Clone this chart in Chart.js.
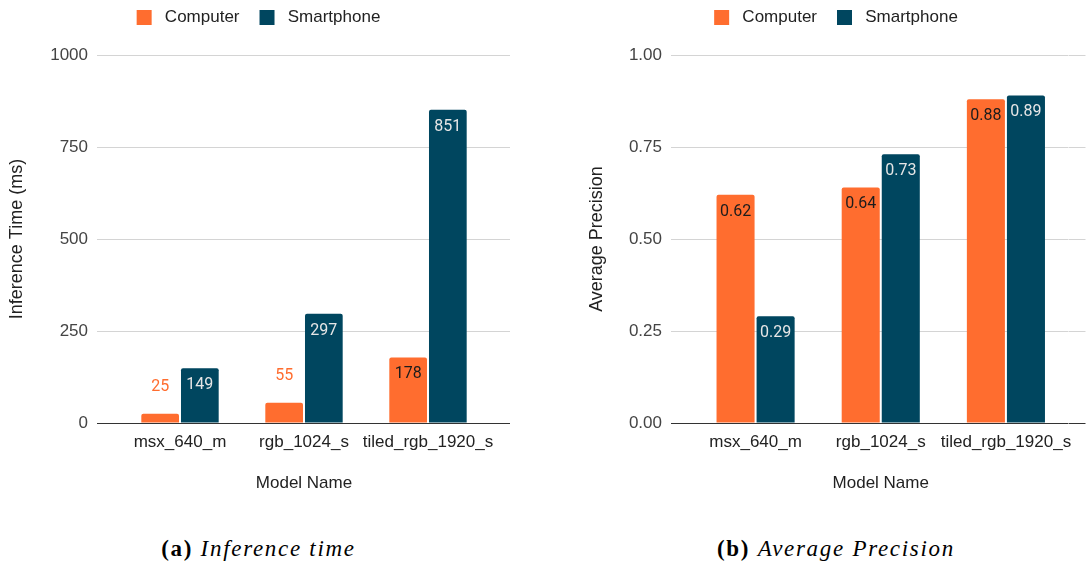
<!DOCTYPE html>
<html><head><meta charset="utf-8">
<script src="https://cdn.jsdelivr.net/npm/chart.js@4.4.1/dist/chart.umd.min.js"></script>
<style>
html,body{margin:0;padding:0;background:#fff}
body{width:1086px;height:567px;position:relative;overflow:hidden}
#w1{position:absolute;left:0;top:0;width:517px;height:500px}
#w2{position:absolute;left:586px;top:0;width:500px;height:500px}
.cap{position:absolute;top:536px;font-family:"Liberation Serif",serif;font-size:23px;color:#000;text-align:center;letter-spacing:1.7px;white-space:nowrap}
#cap1{left:0;width:517px}
#cap2{left:586px;width:500px}
.cap b{font-weight:bold}
.cap i{font-style:italic}
</style></head><body>
<div id="w1"><canvas id="c1"></canvas></div>
<div id="w2"><canvas id="c2"></canvas></div>
<div class="cap" id="cap1"><b>(a)</b> <i>Inference time</i></div>
<div class="cap" id="cap2"><b>(b)</b> <i>Average Precision</i></div>
<script>
const categories = ['msx_640_m', 'rgb_1024_s', 'tiled_rgb_1920_s'];
const seriesNames = ['Computer', 'Smartphone'];
const timeComputer = [25, 55, 178];
const timeSmartphone = [149, 297, 851];
const apComputer = [0.62, 0.64, 0.88];
const apSmartphone = [0.29, 0.73, 0.89];
const timeTicks = [0, 250, 500, 750, 1000];
const apTicks = [0, 0.25, 0.5, 0.75, 1];

const ORANGE = '#ff6d2f';
const NAVY = '#00465f';
const AXFONT = {family: '"Liberation Sans", Arial, sans-serif', size: 17};
const TITLEFONT = {family: '"Liberation Sans", Arial, sans-serif', size: 18};

const barLabels = {
  id: 'barLabels',
  afterDatasetsDraw(chart, args, opts) {
    const ctx = chart.ctx;
    ctx.save();
    ctx.font = '16px Roboto';
    ctx.textAlign = 'center';
    ctx.textBaseline = 'middle';
    chart.data.datasets.forEach((ds, i) => {
      const meta = chart.getDatasetMeta(i);
      meta.data.forEach((bar, j) => {
        const txt = opts.fmt(ds.data[j]);
        const h = bar.base - bar.y;
        if (h > 36) {
          ctx.fillStyle = ds.insideColor;
          ctx.fillText(txt, bar.x, bar.y + 17);
        } else {
          ctx.fillStyle = ds.backgroundColor;
          ctx.fillText(txt, bar.x, bar.y - 27);
        }
      });
    });
    ctx.restore();
  }
};

function gridColor(c) { return (c.tick && c.tick.value === 0) ? '#333333' : '#d4d4d4'; }

function makeChart(id, d1, d2, ticks, fmt, yTitle, leftW, rightW, leftExt, rightExt, titlePadTop) {
  const tmin = ticks[0], tmax = ticks[ticks.length - 1];
  return new Chart(document.getElementById(id), {
    type: 'bar',
    data: {
      labels: categories,
      datasets: [
        {label: seriesNames[0], data: d1, backgroundColor: ORANGE, insideColor: '#1c1c1c',
         borderRadius: {topLeft: 2, topRight: 2}, borderSkipped: 'bottom',
         barPercentage: 0.95, categoryPercentage: 0.64, yAxisID: 'y'},
        {label: seriesNames[1], data: d2, backgroundColor: NAVY, insideColor: '#e6e6e6',
         borderRadius: {topLeft: 2, topRight: 2}, borderSkipped: 'bottom',
         barPercentage: 0.95, categoryPercentage: 0.64, yAxisID: 'y'}
      ]
    },
    options: {
      responsive: true, maintainAspectRatio: false, animation: false,
      layout: {padding: {top: -11, left: 0, right: 0, bottom: 0}},
      plugins: {
        legend: {
          position: 'top',
          labels: {
            boxWidth: 15, boxHeight: 15, padding: 20, color: '#222', font: AXFONT,
            generateLabels: chart => Chart.defaults.plugins.legend.labels.generateLabels(chart)
              .map(it => Object.assign(it, {text: ' ' + it.text}))
          }
        },
        title: {display: true, text: ' ', weight: 500, font: {size: 1}, padding: {top: 17.8, bottom: 0}},
        tooltip: {enabled: false},
        barLabels: {fmt: fmt}
      },
      scales: {
        x: {
          grid: {display: false, drawTicks: false}, border: {display: false},
          ticks: {padding: 9, color: '#222', font: AXFONT, maxRotation: 0, autoSkip: false},
          title: {display: true, text: 'Model Name', color: '#222', font: AXFONT, padding: {top: 4, bottom: 6}},
          afterFit: s => { s.height = 77; }
        },
        y: {
          position: 'left', min: tmin, max: tmax,
          afterBuildTicks: s => { s.ticks = ticks.map(v => ({value: v})); },
          afterFit: s => { s.width = leftW; },
          grid: {color: gridColor, tickColor: gridColor, tickLength: leftExt},
          border: {display: false},
          ticks: {padding: 9, color: '#444', font: AXFONT, callback: v => fmt(v)},
          title: {display: true, text: yTitle, color: '#222', font: TITLEFONT, padding: {top: titlePadTop, bottom: 0}}
        },
        y2: {
          position: 'right', min: tmin, max: tmax,
          afterBuildTicks: s => { s.ticks = ticks.map(v => ({value: v})); },
          afterFit: s => { s.width = rightW; },
          grid: {drawOnChartArea: false, color: gridColor, tickColor: gridColor, tickLength: rightExt},
          border: {display: false},
          ticks: {display: false}
        }
      }
    },
    plugins: [barLabels]
  });
}

makeChart('c1', timeComputer, timeSmartphone, timeTicks, v => String(Math.round(v)),
  'Inference Time (ms)', 118, 27, 21, 20, 6);
makeChart('c2', apComputer, apSmartphone, apTicks, v => Number(v).toFixed(2),
  'Average Precision', 107, 17.5, 22, 17, 0);
</script>
</body></html>
